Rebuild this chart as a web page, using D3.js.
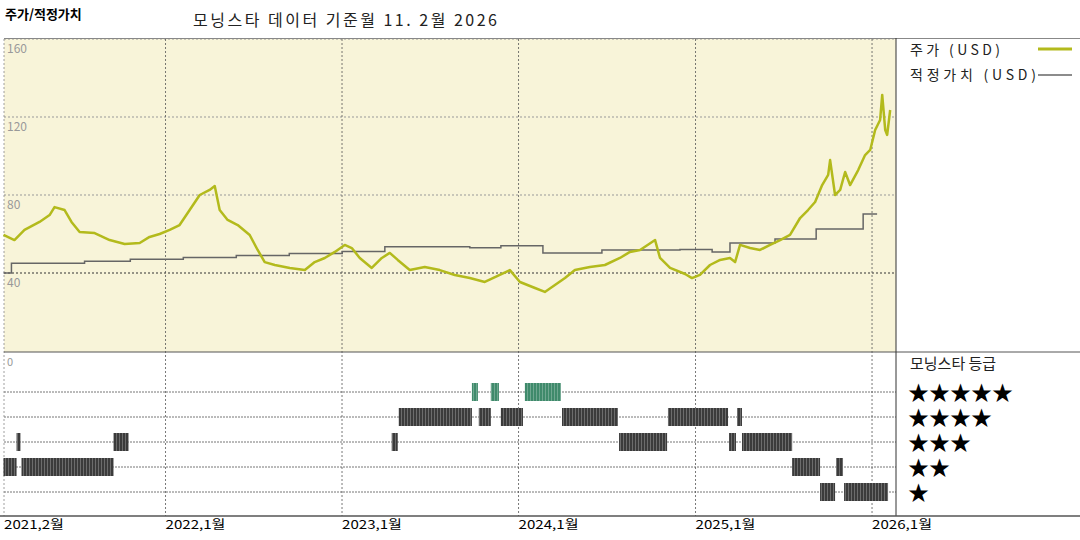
<!DOCTYPE html>
<html><head><meta charset="utf-8">
<script src="https://cdn.jsdelivr.net/npm/d3@7"></script>
<style>body{margin:0;background:#fff;} text{font-family:"Noto Sans CJK KR","DejaVu Sans",sans-serif;}</style>
</head><body>
<script>
// price, years as fraction since 2021
var priceT = [0.082,0.144,0.201,0.286,0.343,0.371,0.428,0.467,0.513,0.598,0.683,0.768,0.853,0.909,0.966,1.023,1.079,1.136,1.193,1.249,1.278,1.306,1.351,1.408,1.476,1.521,1.561,1.618,1.703,1.788,1.844,1.901,1.958,2.014,2.054,2.099,2.167,2.224,2.269,2.314,2.382,2.467,2.552,2.637,2.722,2.807,2.892,2.949,3.006,3.091,3.147,3.204,3.261,3.317,3.402,3.487,3.572,3.629,3.686,3.771,3.799,3.856,3.941,3.980,4.025,4.082,4.139,4.195,4.224,4.252,4.309,4.365,4.422,4.479,4.535,4.592,4.637,4.677,4.717,4.751,4.762,4.790,4.819,4.847,4.875,4.921,4.960,4.989,5.017,5.045,5.057,5.074,5.085,5.102];
var priceV = [59.5,56.9,62.1,66.2,69.7,73.8,72.3,66.2,61.0,60.5,56.9,54.9,55.4,58.5,60.0,62.1,64.6,72.3,80,82.6,84.6,72.3,67.2,64.6,59.5,51.8,45.6,44.1,42.6,41.5,45.6,47.7,50.8,54.4,52.8,47.7,42.6,47.7,50.3,46.7,41.5,43.1,41.5,39.0,37.4,35.4,39.0,41.5,35.4,32.3,30.3,33.8,37.4,41.5,43.1,44.1,47.7,50.8,51.8,56.9,47.7,42.6,39.5,37.4,39.0,44.1,46.7,47.7,45.6,54.4,52.8,51.8,54.4,56.9,59.5,68.2,72.3,76.4,85.1,90.3,97.9,80,82.6,91.8,85.1,92.8,100.5,103.1,113.3,118.5,131.3,113.3,110.8,123.6];

// fair value (step after)
var fairT = [0.082,0.127,0.541,0.8,1.1,1.4,1.7,2.0,2.241,2.722,2.898,3.136,3.470,3.912,4.094,4.195,4.450,4.683,4.949,5.028];
var fairV = [40,45,46,47,48,49,50,51,53.5,53,54,50.3,51.8,52.0,50.8,55.4,57.4,62.6,70.3,70.3];

// rating periods [start, end, stars]
var ratingStart = [2.734,2.841,3.034, 2.320,2.773,2.898,3.244,3.844,4.235, 0.156,0.705,2.280,3.567,4.190,4.263, 0.076,0.184,4.547,4.796, 4.705,4.841];
var ratingEnd   = [2.768,2.887,3.238, 2.734,2.841,3.023,3.561,4.184,4.263, 0.178,0.790,2.314,3.839,4.229,4.547, 0.156,0.705,4.705,4.835, 4.790,5.090];
var ratingStars = [5,5,5, 4,4,4,4,4,4, 3,3,3,3,3,3, 2,2,2,2, 1,1];

var yTicks = [40,80,120,160];
var xTicks = ["2021-02-01","2022-01-01","2023-01-01","2024-01-01","2025-01-01","2026-01-01"];
var xTickLabels = ["2021,2월","2022,1월","2023,1월","2024,1월","2025,1월","2026,1월"];
var stars = [5,4,3,2,1];

var toDate = function(t){ return new Date(Date.UTC(2021,0,1) + t*365.25*864e5); };

var svg = d3.select("body").append("svg").attr("width",1080).attr("height",540);

var x = d3.scaleUtc().domain([new Date("2021-02-01"), toDate(5.135)]).range([4, 896]);
var y = d3.scaleLinear().domain([0,160]).range([351,39]);
var yr = d3.scalePoint().domain(stars).range([392,492]);

// titles
svg.append("text").attr("x",5).attr("y",19).attr("font-size",13).attr("font-weight","bold").text("주가/적정가치");
svg.append("text").attr("x",193).attr("y",26).attr("font-size",16).attr("fill","#222")
    .attr("textLength",304).attr("lengthAdjust","spacing").text("모닝스타 데이터 기준월 11. 2월 2026");

// panel background
svg.append("rect").attr("x",4).attr("y",39).attr("width",892).attr("height",313).attr("fill","#f8f4d9");

// horizontal grid
svg.selectAll(".hg").data(yTicks).enter().append("line")
    .attr("x1",4).attr("x2",896)
    .attr("y1",function(d){return y(d);}).attr("y2",function(d){return y(d);})
    .attr("stroke",function(d){return d==40 ? "#333" : "#999";})
    .attr("stroke-dasharray","2,2");
svg.selectAll(".yl").data(yTicks).enter().append("text")
    .attr("x",7).attr("y",function(d){return y(d)+14;})
    .attr("font-size",12).attr("fill","#999").text(function(d){return d;});
svg.append("text").attr("x",7).attr("y",366).attr("font-size",11).attr("fill","#999").text("0");

// rating rows
svg.selectAll(".rg").data(stars).enter().append("line")
    .attr("x1",4).attr("x2",896)
    .attr("y1",function(d){return yr(d);}).attr("y2",function(d){return yr(d);})
    .attr("stroke","#777").attr("stroke-dasharray","2,1");

// vertical grid
svg.selectAll(".vg").data(xTicks).enter().append("line")
    .attr("x1",function(d){return x(new Date(d));}).attr("x2",function(d){return x(new Date(d));})
    .attr("y1",39).attr("y2",516)
    .attr("stroke",function(d,i){return i==0 ? "#888" : "#555";}).attr("stroke-width",0.8)
    .attr("stroke-dasharray","2,2");

// rating bars
var ratings = ratingStart.map(function(s,i){return [Math.max(s,0.082), ratingEnd[i], ratingStars[i]];});
svg.selectAll(".rb").data(ratings).enter().append("rect")
    .attr("x",function(d){return x(toDate(d[0]));})
    .attr("width",function(d){return x(toDate(d[1])) - x(toDate(d[0]));})
    .attr("y",function(d){return yr(d[2]) - 9;}).attr("height",18)
    .attr("fill",function(d){return d[2]==5 ? "#3f8a6b" : "#3b3b3b";});
var pat = svg.append("defs").append("pattern").attr("id","st").attr("width",3).attr("height",4).attr("patternUnits","userSpaceOnUse");
pat.append("rect").attr("x",2).attr("width",1).attr("height",4).attr("fill","rgba(255,255,255,0.25)");
svg.selectAll(".rs").data(ratings).enter().append("rect")
    .attr("x",function(d){return x(toDate(d[0]));})
    .attr("width",function(d){return x(toDate(d[1])) - x(toDate(d[0]));})
    .attr("y",function(d){return yr(d[2]) - 9;}).attr("height",18)
    .attr("fill","url(#st)");

// fair value line
var fair = fairT.map(function(t,i){return [toDate(t), fairV[i]];});
svg.append("path").datum(fair)
    .attr("d", d3.line().curve(d3.curveStepAfter).x(function(d){return x(d[0]);}).y(function(d){return y(d[1]);}))
    .attr("fill","none").attr("stroke","#666").attr("stroke-width",1.5);

// price line
var price = priceT.map(function(t,i){return [toDate(t), priceV[i]];});
svg.append("path").datum(price)
    .attr("d", d3.line().x(function(d){return x(d[0]);}).y(function(d){return y(d[1]);}))
    .attr("fill","none").attr("stroke","#b3ba1c").attr("stroke-width",2.5).attr("stroke-linejoin","round");

// frame lines
svg.append("line").attr("x1",4).attr("x2",1080).attr("y1",38.5).attr("y2",38.5).attr("stroke","#888");
svg.append("line").attr("x1",4).attr("x2",1080).attr("y1",352).attr("y2",352).attr("stroke","#555");
svg.append("line").attr("x1",896).attr("x2",896).attr("y1",38).attr("y2",516).attr("stroke","#333");
svg.append("line").attr("x1",0).attr("x2",1080).attr("y1",516).attr("y2",516).attr("stroke","#555").attr("stroke-width",1.5);

// x axis labels
svg.selectAll(".xl").data(xTicks).enter().append("text")
    .attr("x",function(d){return x(new Date(d));}).attr("y",529)
    .attr("font-size",12).attr("textLength",60).attr("lengthAdjust","spacingAndGlyphs")
    .text(function(d,i){return xTickLabels[i];});

// legend
svg.append("text").attr("x",910).attr("y",55).attr("font-size",14).attr("fill","#222")
    .attr("textLength",90).attr("lengthAdjust","spacing").text("주가 (USD)");
svg.append("line").attr("x1",1038).attr("x2",1072).attr("y1",49).attr("y2",49).attr("stroke","#b3ba1c").attr("stroke-width",3);
svg.append("text").attr("x",910).attr("y",80).attr("font-size",14).attr("fill","#222")
    .attr("textLength",126).attr("lengthAdjust","spacing").text("적정가치 (USD)");
svg.append("line").attr("x1",1038).attr("x2",1072).attr("y1",75).attr("y2",75).attr("stroke","#666").attr("stroke-width",1.5);
svg.append("text").attr("x",910).attr("y",369).attr("font-size",15).attr("fill","#222").text("모닝스타 등급");
svg.selectAll(".sl").data(stars).enter().append("text")
    .attr("x",908).attr("y",function(d){return yr(d)+8;})
    .attr("font-size",21).attr("font-family","DejaVu Sans")
    .text(function(d){return "★".repeat(d);});
</script>
</body></html>
